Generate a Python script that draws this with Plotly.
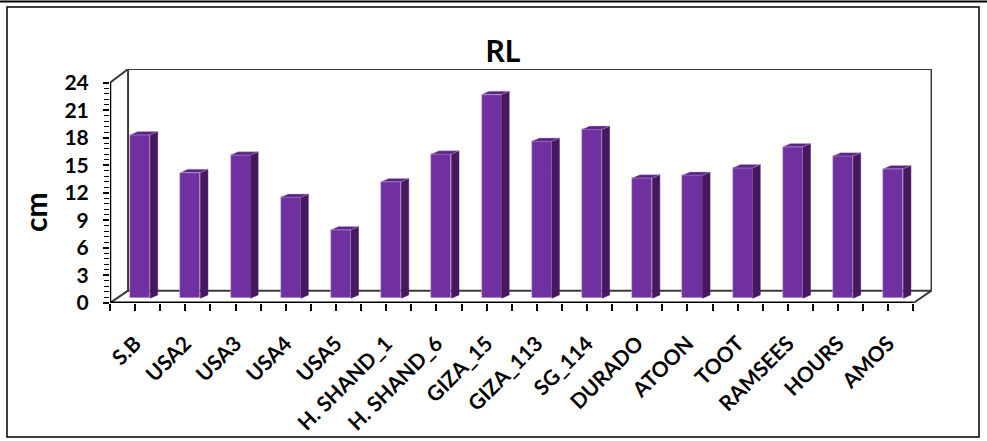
import numpy as np
import plotly.graph_objects as go

# RL (cm) per genotype
genotypes = ["S.B", "USA2", "USA3", "USA4", "USA5", "H. SHAND_1", "H. SHAND_6",
             "GIZA_15", "GIZA_113", "SG_114", "DURADO", "ATOON", "TOOT",
             "RAMSEES", "HOURS", "AMOS"]
rl_values = [17.8, 13.7, 15.6, 11.0, 7.45, 12.7, 15.7, 22.2, 17.1, 18.4,
             13.1, 13.4, 14.2, 16.5, 15.5, 14.1]
y_tick_values = [0, 3, 6, 9, 12, 15, 18, 21, 24]

# figure geometry (pixels)
W, H = 987, 441
ML, MR, MT, MB = 110, 55, 69, 138
PW, PH = W - ML - MR, H - MT - MB

# pseudo-3D geometry in data units
Y_MAX = 24
Y_TOP = 25.5            # top of back wall
DEPTH_X = 0.36          # wall depth offset (category units)
DEPTH_Y_FLOOR = 1.34    # back floor rise
BAR_SHIFT = 0.10        # bar front face offset from category centre
BAR_BASE = 0.52         # bar base height (bar sits inside the floor)
BAR_W = 0.40
BAR_DX, BAR_DY = 0.15, 0.36

n = len(genotypes)
x_lo, x_hi = -0.5, n - 0.5
x_idx = np.arange(n)

FRONT = "#7030A0"
SIDE = "#46195F"
TOP = "#5A2484"


def px_x(p):
    return (p - ML) / PW


def px_y(p):
    return (H - MB - p) / PH


fig = go.Figure()

# front faces
fig.add_trace(go.Bar(
    x=x_idx + BAR_SHIFT, y=rl_values, base=BAR_BASE, width=BAR_W,
    marker=dict(color=FRONT, line=dict(color="rgba(205,185,230,0.9)", width=0.6)),
    hoverinfo="skip", showlegend=False,
))

# side and top faces
side_x, side_y, top_x, top_y = [], [], [], []
for xi, v in zip(x_idx, rl_values):
    xl = xi + BAR_SHIFT - BAR_W / 2
    xr = xi + BAR_SHIFT + BAR_W / 2
    yt = BAR_BASE + v
    side_x += [xr, xr + BAR_DX, xr + BAR_DX, xr, xr, None]
    side_y += [BAR_BASE, BAR_BASE + BAR_DY, yt + BAR_DY, yt, BAR_BASE, None]
    top_x += [xl, xl + BAR_DX, xr + BAR_DX, xr, xl, None]
    top_y += [yt, yt + BAR_DY, yt + BAR_DY, yt, yt, None]

fig.add_trace(go.Scatter(x=side_x, y=side_y, mode="lines", fill="toself",
                         fillcolor=SIDE, line=dict(width=0.5, color=SIDE),
                         hoverinfo="skip", showlegend=False))
fig.add_trace(go.Scatter(x=top_x, y=top_y, mode="lines", fill="toself",
                         fillcolor=TOP, line=dict(width=0.5, color="rgba(190,165,220,0.9)"),
                         hoverinfo="skip", showlegend=False))

shapes = []
wall = dict(color="#3a3a3a", width=2)
bx0, bx1 = x_lo + DEPTH_X, x_hi + DEPTH_X
# back wall outline
shapes += [
    dict(type="line", xref="x", yref="y", x0=bx0, y0=DEPTH_Y_FLOOR, x1=bx0, y1=Y_TOP, line=wall, layer="below"),
    dict(type="line", xref="x", yref="y", x0=bx0, y0=Y_TOP, x1=bx1, y1=Y_TOP, line=wall, layer="below"),
    dict(type="line", xref="x", yref="y", x0=bx1, y0=Y_TOP, x1=bx1, y1=DEPTH_Y_FLOOR, line=wall, layer="below"),
    dict(type="line", xref="x", yref="y", x0=bx0, y0=DEPTH_Y_FLOOR, x1=bx1, y1=DEPTH_Y_FLOOR, line=wall, layer="below"),
    # floor sides
    dict(type="line", xref="x", yref="y", x0=x_lo, y0=0, x1=bx0, y1=DEPTH_Y_FLOOR, line=wall, layer="below"),
    dict(type="line", xref="x", yref="y", x0=x_hi, y0=0, x1=bx1, y1=DEPTH_Y_FLOOR, line=wall, layer="below"),
    # side wall top edge
    dict(type="line", xref="x", yref="y", x0=x_lo, y0=Y_MAX, x1=bx0, y1=Y_TOP, line=wall, layer="below"),
    # front axes
    dict(type="line", xref="x", yref="y", x0=x_lo, y0=0, x1=x_lo, y1=Y_MAX,
         line=dict(color="black", width=2.5)),
    dict(type="line", xref="x", yref="y", x0=x_lo, y0=0, x1=x_hi, y1=0,
         line=dict(color="black", width=3)),
]
# chart frame
shapes += [
    dict(type="rect", xref="paper", yref="paper", x0=px_x(7), y0=px_y(437), x1=px_x(979), y1=px_y(7),
         line=dict(color="black", width=1.5), fillcolor="rgba(0,0,0,0)"),
    dict(type="line", xref="paper", yref="paper", x0=px_x(0), y0=px_y(1.5), x1=px_x(W), y1=px_y(1.5),
         line=dict(color="black", width=2)),
]

x_tick_font = dict(family="Lato", size=21, color="black", weight="bold")
y_tick_font = dict(family="Lato", size=21, color="black", weight="bold")

fig.update_layout(
    width=W, height=H,
    margin=dict(l=ML, r=MR, t=MT, b=MB),
    paper_bgcolor="white", plot_bgcolor="white",
    shapes=shapes,
    bargap=0,
    title=dict(text="RL", x=503 / W, xref="container", xanchor="center",
               y=1 - 51 / H, yref="container", yanchor="middle",
               font=dict(family="Lato", size=30, color="black", weight="bold")),
    annotations=[dict(text="cm", xref="paper", yref="paper", x=px_x(35), y=px_y(212),
                      textangle=-90, showarrow=False, xanchor="center", yanchor="middle",
                      font=dict(family="Lato", size=30, color="black", weight="bold"))],
    xaxis=dict(range=[x_lo, x_hi + DEPTH_X + 0.01], tickmode="array", tickvals=list(x_idx),
               ticktext=genotypes, tickangle=-45, tickfont=x_tick_font, showgrid=False,
               zeroline=False, showline=False, ticks="outside", ticklen=7, tickwidth=1.5,
               tickcolor="black", automargin=False, ticklabelstandoff=12,
               minor=dict(tickmode="array", tickvals=list(np.arange(n + 1) - 0.5),
                          ticks="outside", ticklen=7, tickwidth=1.5, tickcolor="black")),
    yaxis=dict(range=[0, Y_TOP], tickmode="array", tickvals=y_tick_values,
               tickfont=y_tick_font, showgrid=False, zeroline=False, showline=False,
               ticks="outside", ticklen=6, tickwidth=1.5, tickcolor="black", automargin=False,
               ticklabelstandoff=10,
               minor=dict(tickmode="array", tickvals=list(np.round(np.arange(0, Y_MAX + 0.01, 0.6), 2)),
                          ticks="outside", ticklen=5, tickwidth=1.2, tickcolor="black")),
)

fig.write_html("out.html")
